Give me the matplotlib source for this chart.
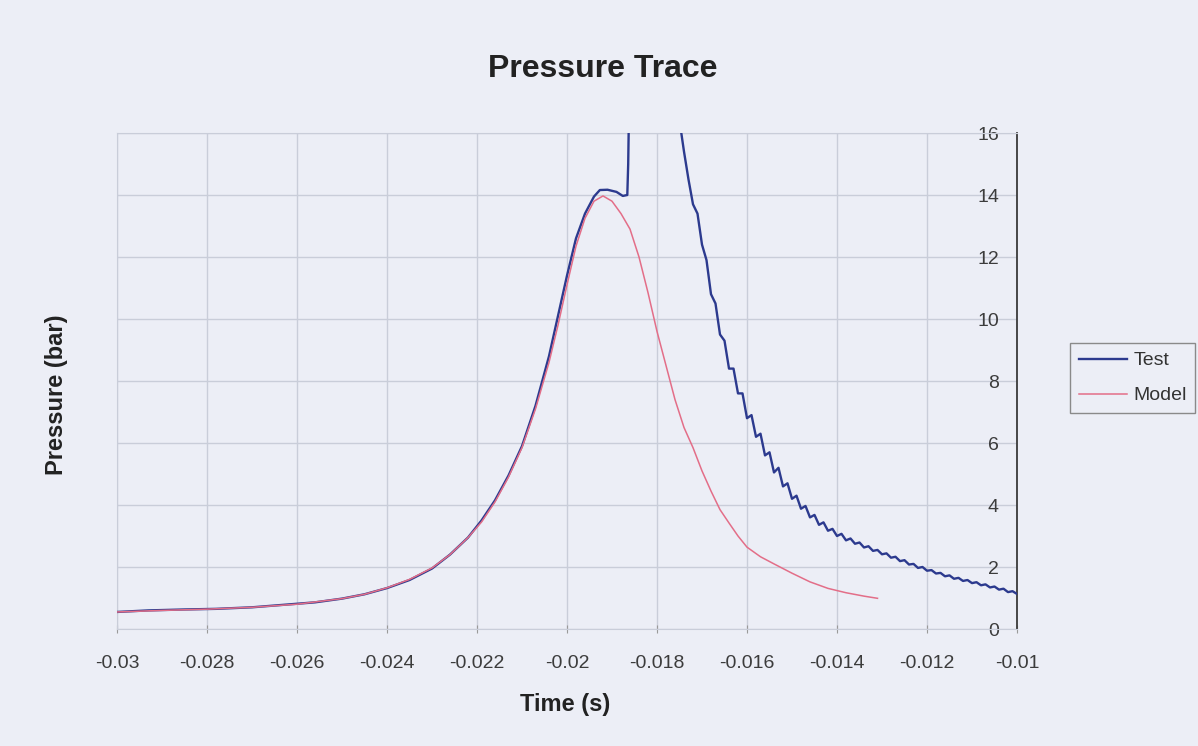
import matplotlib
matplotlib.use("Agg")
import matplotlib.pyplot as plt

plt.rcParams['font.family'] = ['Liberation Sans', 'DejaVu Sans']

# time (s) and pressure (bar)
test_time = [-0.0300, -0.0293, -0.0285, -0.0278, -0.0270, -0.0263, -0.0256, -0.0250,
             -0.0245, -0.0240, -0.0235, -0.0230, -0.0226, -0.0222, -0.0219, -0.0216,
             -0.0213, -0.0210, -0.0207, -0.0204, -0.0202, -0.0200, -0.0198, -0.0196,
             -0.0194, -0.01927, -0.0191, -0.0189, -0.01876, -0.01866, -0.01864, -0.01862,
             -0.0175, -0.0174, -0.0173, -0.0172, -0.0171, -0.0170, -0.0169, -0.0168,
             -0.0167, -0.0166, -0.0165, -0.0164, -0.0163, -0.0162, -0.0161, -0.0160,
             -0.0159, -0.0158, -0.0157, -0.0156, -0.0155, -0.0154, -0.0153, -0.0152,
             -0.0151, -0.0150, -0.0149, -0.0148, -0.0147, -0.0146, -0.0145, -0.0144,
             -0.0143, -0.0142, -0.0141, -0.0140, -0.0139, -0.0138, -0.0137, -0.0136,
             -0.0135, -0.0134, -0.0133, -0.0132, -0.0131, -0.0130, -0.0129, -0.0128,
             -0.0127, -0.0126, -0.0125, -0.0124, -0.0123, -0.0122, -0.0121, -0.0120,
             -0.0119, -0.0118, -0.0117, -0.0116, -0.0115, -0.0114, -0.0113, -0.0112,
             -0.0111, -0.0110, -0.0109, -0.0108, -0.0107, -0.0106, -0.0105, -0.0104,
             -0.0103, -0.0102, -0.0101, -0.0100]
test_pressure = [0.55, 0.60, 0.63, 0.65, 0.70, 0.78, 0.86, 0.98,
                 1.12, 1.32, 1.58, 1.95, 2.40, 2.95, 3.50, 4.15,
                 4.95, 5.90, 7.20, 8.80, 10.1, 11.4, 12.6, 13.4,
                 13.95, 14.16, 14.17, 14.10, 13.97, 14.0, 15.0, 17.0,
                 16.4, 15.4, 14.5, 13.7, 13.4, 12.4, 11.9, 10.8,
                 10.5, 9.5, 9.3, 8.4, 8.4, 7.6, 7.6, 6.8,
                 6.9, 6.2, 6.3, 5.6, 5.7, 5.05, 5.2, 4.6,
                 4.7, 4.2, 4.3, 3.88, 3.97, 3.6, 3.68, 3.36,
                 3.44, 3.17, 3.23, 3.00, 3.07, 2.86, 2.92, 2.75,
                 2.79, 2.63, 2.67, 2.52, 2.55, 2.41, 2.44, 2.30,
                 2.33, 2.19, 2.22, 2.08, 2.10, 1.97, 2.00, 1.88,
                 1.90, 1.79, 1.81, 1.70, 1.73, 1.62, 1.65, 1.55,
                 1.58, 1.48, 1.51, 1.41, 1.44, 1.34, 1.37, 1.27,
                 1.30, 1.19, 1.22, 1.13]

model_time = [-0.0300, -0.0290, -0.0280, -0.0270, -0.0260, -0.0250, -0.0245, -0.0240,
              -0.0235, -0.0230, -0.0226, -0.0222, -0.0219, -0.0216, -0.0213, -0.0210,
              -0.0207, -0.0204, -0.0202, -0.0200, -0.0198, -0.0196, -0.0194, -0.0192,
              -0.0190, -0.0188, -0.0186, -0.0184, -0.0182, -0.0180, -0.0178, -0.0176,
              -0.0174, -0.0172, -0.0170, -0.0168, -0.0166, -0.0164, -0.0162, -0.0160,
              -0.0157, -0.0154, -0.0150, -0.0146, -0.0142, -0.0138, -0.0134, -0.0131]
model_pressure = [0.55, 0.60, 0.64, 0.70, 0.80, 0.98, 1.12, 1.33,
                  1.60, 1.97, 2.40, 2.95, 3.45, 4.10, 4.90, 5.85,
                  7.10, 8.60, 9.80, 11.1, 12.35, 13.25, 13.80, 13.97,
                  13.80, 13.40, 12.90, 12.0, 10.85, 9.60, 8.50, 7.40,
                  6.50, 5.85, 5.10, 4.45, 3.85, 3.42, 3.00, 2.64,
                  2.33, 2.10, 1.80, 1.52, 1.31, 1.17, 1.06, 0.99]

x_ticks = [-0.03, -0.028, -0.026, -0.024, -0.022, -0.02, -0.018, -0.016, -0.014, -0.012, -0.01]
x_labels = ['-0.03', '-0.028', '-0.026', '-0.024', '-0.022', '-0.02', '-0.018', '-0.016',
            '-0.014', '-0.012', '-0.01']
y_ticks = [0, 2, 4, 6, 8, 10, 12, 14, 16]

paper = '#eceef6'
grid_col = '#c9cdd9'

fig = plt.figure(figsize=(11.98, 7.46), dpi=100, facecolor=paper)
ax = fig.add_axes([117 / 1198, 1 - 629 / 746, 900 / 1198, 496 / 746])
ax.set_facecolor(paper)

ax.plot(test_time, test_pressure, color='#2c3a8e', lw=1.7, label='Test', zorder=3)
ax.plot(model_time, model_pressure, color='#e36e88', lw=1.1, label='Model', zorder=4)

ax.set_xlim(-0.03, -0.01)
ax.set_ylim(0, 16)
ax.set_xticks(x_ticks, x_labels)
ax.set_yticks(y_ticks, [str(v) for v in y_ticks])
ax.grid(True, color=grid_col, lw=1)
ax.set_axisbelow(True)

# value axis crosses at the right end, labels sit just inside it
ax.yaxis.tick_right()
ax.tick_params(axis='y', length=0, pad=-13, labelsize=14, labelcolor='#3c3c3c')
for lab in ax.get_yticklabels():
    lab.set_horizontalalignment('right')
ax.tick_params(axis='x', direction='inout', length=6, color='#9a9a9a', pad=16,
               labelsize=14, labelcolor='#3c3c3c')

for side in ['top', 'left', 'bottom']:
    ax.spines[side].set_color(grid_col)
ax.spines['right'].set_color('#3a3a3a')
ax.spines['right'].set_linewidth(1.3)

fig.text(603 / 1198, 1 - 69 / 746, 'Pressure Trace', ha='center', va='center',
         fontsize=23, weight='bold', color='#222222')
fig.text(565 / 1198, 1 - 704 / 746, 'Time (s)', ha='center', va='center',
         fontsize=17, weight='bold', color='#222222')
fig.text(56 / 1198, 1 - 395 / 746, 'Pressure (bar)', ha='center', va='center',
         rotation=90, fontsize=17, weight='bold', color='#222222')

leg = fig.legend(loc='upper left', bbox_to_anchor=(1070 / 1198, 1 - 343 / 746),
                 borderaxespad=0, fancybox=False, edgecolor='#8a8a8a', facecolor=paper,
                 framealpha=1, fontsize=14, handlelength=2.5, handletextpad=0.3,
                 labelspacing=0.9, borderpad=0.45)
for t in leg.get_texts():
    t.set_color('#333333')

fig.savefig('out.png', dpi=100, facecolor=paper)
